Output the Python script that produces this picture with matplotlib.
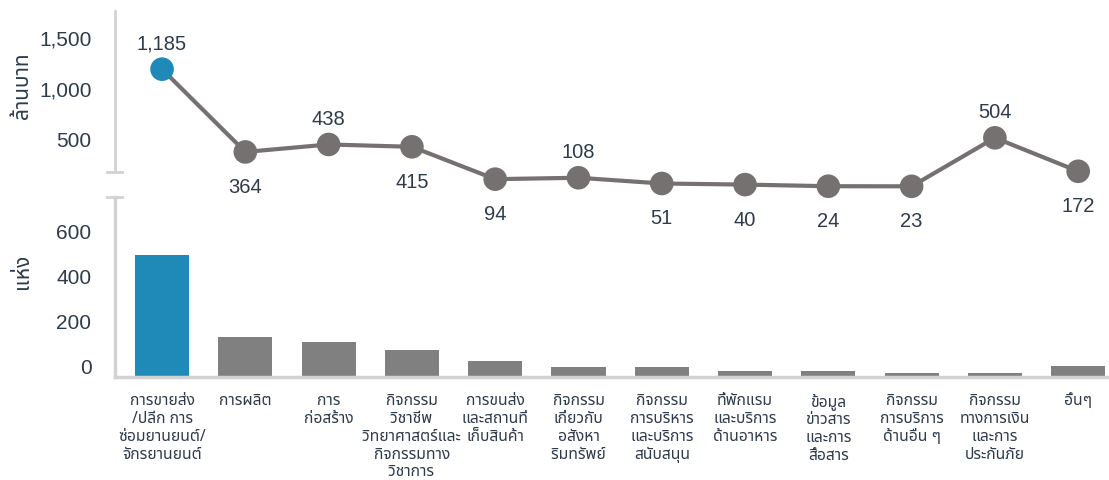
import matplotlib
matplotlib.use("Agg")
import matplotlib.pyplot as plt
from matplotlib import font_manager
from matplotlib.lines import Line2D
from matplotlib.transforms import ScaledTranslation

# --- data -------------------------------------------------------------
categories = [
    "การขายส่ง\n/ปลีก การ\nซ่อมยานยนต์/\nจักรยานยนต์",
    "การผลิต",
    "การ\nก่อสร้าง",
    "กิจกรรม\nวิชาชีพ\nวิทยาศาสตร์และ\nกิจกรรมทาง\nวิชาการ",
    "การขนส่ง\nและสถานที่\nเก็บสินค้า",
    "กิจกรรม\nเกี่ยวกับ\nอสังหา\nริมทรัพย์",
    "กิจกรรม\nการบริหาร\nและบริการ\nสนับสนุน",
    "ที่พักแรม\nและบริการ\nด้านอาหาร",
    "ข้อมูล\nข่าวสาร\nและการ\nสื่อสาร",
    "กิจกรรม\nการบริการ\nด้านอื่น ๆ",
    "กิจกรรม\nทางการเงิน\nและการ\nประกันภัย",
    "อื่นๆ",
]
value_mb = [1185, 364, 438, 415, 94, 108, 51, 40, 24, 23, 504, 172]   # million baht
label_above = [True, False, True, False, False, True, False, False, False, False, True, False]
count = [540, 176, 154, 118, 70, 43, 43, 25, 25, 16, 16, 47]          # number of establishments
top_yticks = [500, 1000, 1500]
bottom_yticks = [0, 200, 400, 600]

# --- fonts ------------------------------------------------------------
installed = {f.name for f in font_manager.fontManager.ttflist}
thai_font = next((f for f in ["Noto Sans Thai", "Anuphan", "Prompt", "Kanit", "Sarabun"]
                  if f in installed), "DejaVu Sans")
num_font = "Liberation Sans"
plt.rcParams["font.family"] = [num_font, thai_font]

TEXT = "#2e3b4c"
BLUE = "#1f89b8"
GREY_BAR = "#808080"
GREY_LINE = "#757170"
SPINE = "#d2d2d2"

W, H = 1109, 481
fig = plt.figure(figsize=(W / 100, H / 100), dpi=100)


def box(left, top, right, bottom):
    return [left / W, 1 - bottom / H, (right - left) / W, (bottom - top) / H]


ax_bot = fig.add_axes(box(115, 198, 1109, 378))
ax_top = fig.add_axes(box(115, 12, 1109, 173))
ax_top.set_zorder(3)
ax_top.patch.set_visible(False)

x = list(range(len(categories)))
xlim = (-0.565, 11.37)

# --- top: line chart ----------------------------------------------------
colors = [BLUE] + [GREY_LINE] * (len(x) - 1)
ax_top.plot(x, value_mb, color=GREY_LINE, lw=3, zorder=2, clip_on=False)
ax_top.scatter(x, value_mb, s=17 ** 2, c=colors, zorder=3, clip_on=False, linewidths=0)
for xi, v, up in zip(x, value_mb, label_above):
    ax_top.annotate(f"{v:,}", (xi, v), xytext=(0, 12 if up else -18),
                    textcoords="offset points", ha="center",
                    va="bottom" if up else "top", fontsize=14.5, color=TEXT,
                    family=num_font, annotation_clip=False)
ax_top.set_xlim(*xlim)
ax_top.set_ylim(165, 1762)
ax_top.set_yticks(top_yticks)
ax_top.set_yticklabels([f"{t:,}" for t in top_yticks])
ax_top.set_xticks([])
for s in ["top", "right", "bottom"]:
    ax_top.spines[s].set_visible(False)
ax_top.spines["left"].set_color(SPINE)
ax_top.spines["left"].set_linewidth(2)
ax_top.tick_params(axis="y", length=0, pad=17, labelsize=15, labelcolor=TEXT)
ax_top.set_ylabel("ล้านบาท", family=[thai_font], fontsize=15, color=TEXT)
ax_top.yaxis.set_label_coords(-0.082, 0.54)

# --- bottom: bar chart --------------------------------------------------
bar_colors = [BLUE] + [GREY_BAR] * (len(x) - 1)
ax_bot.bar(x, count, width=0.65, color=bar_colors, zorder=2)
ax_bot.set_xlim(*xlim)
ax_bot.set_ylim(0, 798)
ax_bot.set_yticks(bottom_yticks)
ax_bot.set_xticks(x)
ax_bot.set_xticklabels(categories, family=[thai_font], fontsize=11.3, color=TEXT,
                       linespacing=1.15, va="top")
for s in ["top", "right"]:
    ax_bot.spines[s].set_visible(False)
for s in ["left", "bottom"]:
    ax_bot.spines[s].set_color(SPINE)
    ax_bot.spines[s].set_linewidth(2.5)
ax_bot.tick_params(axis="y", length=0, pad=17, labelsize=15, labelcolor=TEXT)
ax_bot.tick_params(axis="x", length=0, pad=11)
shift = ScaledTranslation(0, 11 / 100, fig.dpi_scale_trans)
for lab in ax_bot.get_yticklabels():
    lab.set_transform(lab.get_transform() + shift)
ax_bot.set_ylabel("แห่ง", family=[thai_font], fontsize=15, color=TEXT)
ax_bot.yaxis.set_label_coords(-0.082, 0.59)

# axis-break caps
fig.add_artist(Line2D([107 / W, 122 / W], [1 - 173 / H] * 2, color=SPINE, lw=2))
fig.add_artist(Line2D([107 / W, 122 / W], [1 - 198 / H] * 2, color=SPINE, lw=2))

fig.savefig("out.png", dpi=100)
